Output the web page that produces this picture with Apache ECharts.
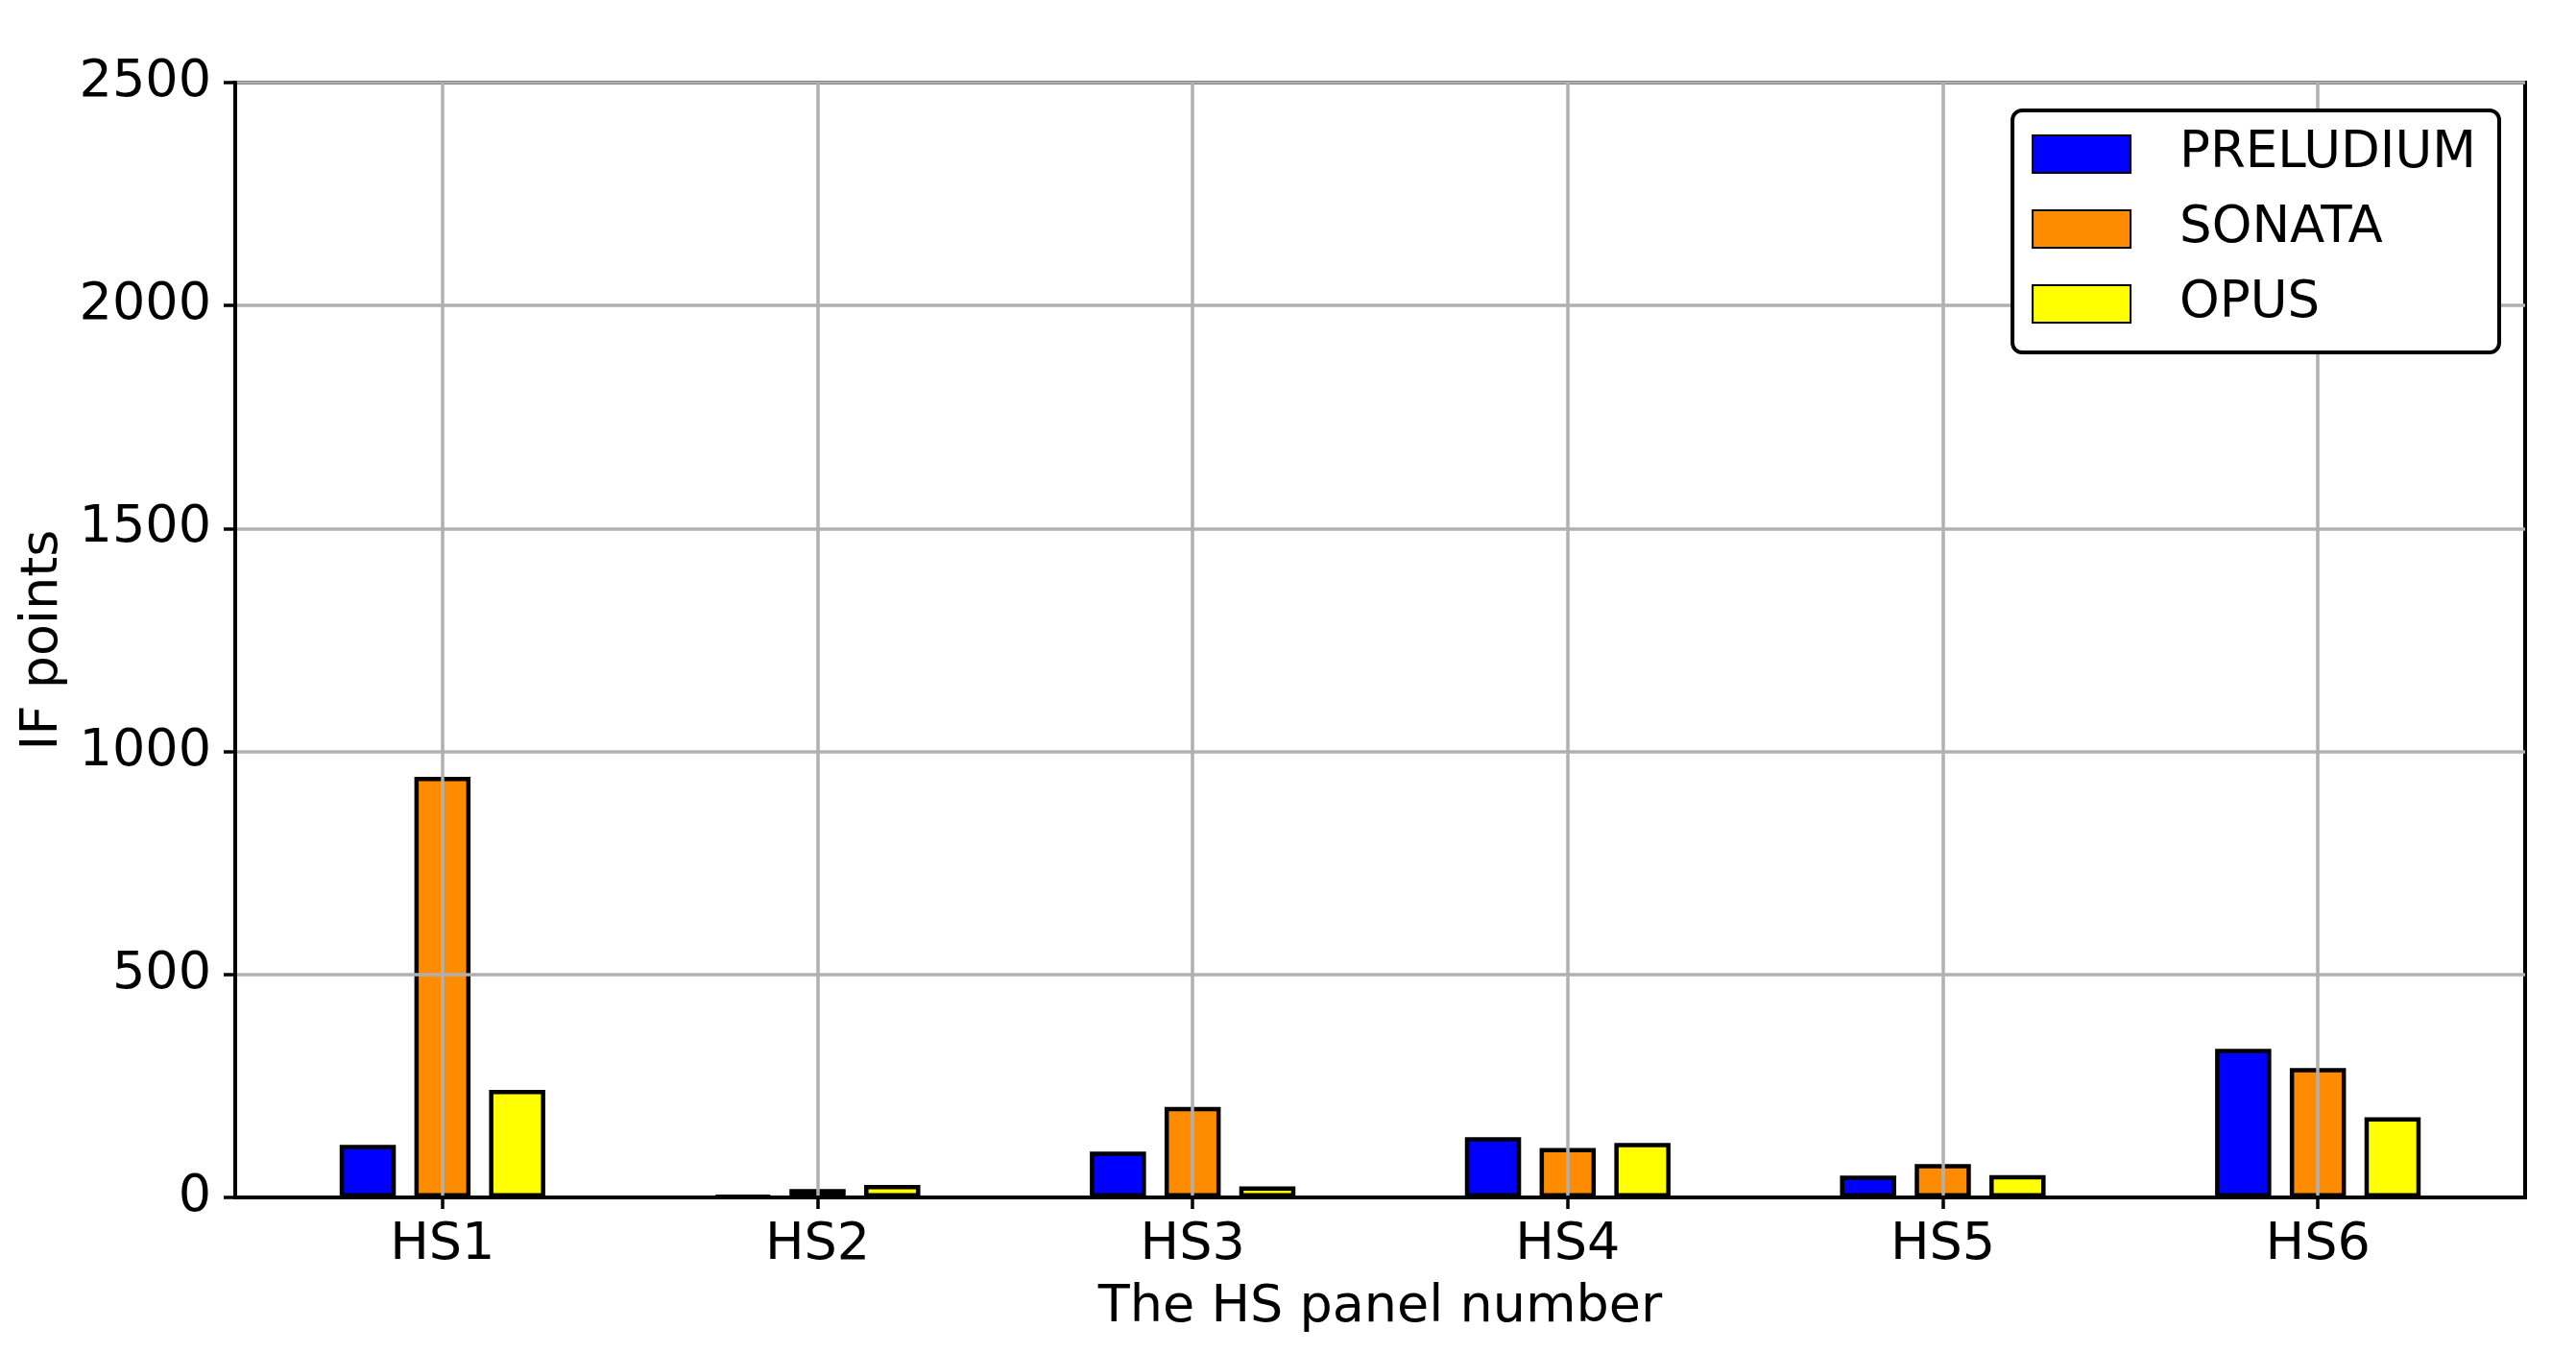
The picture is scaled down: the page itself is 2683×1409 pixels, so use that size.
<!DOCTYPE html>
<html>
<head>
<meta charset="utf-8">
<title>IF points per HS panel</title>
<script src="https://cdn.jsdelivr.net/npm/echarts@6.0.0/dist/echarts.min.js"></script>
<style>
  html, body { margin: 0; padding: 0; background: #fff; }
  #chart { width: 2683px; height: 1409px; }
</style>
</head>
<body>
<div id="chart"></div>
<script>
// values
const panels = ['HS1', 'HS2', 'HS3', 'HS4', 'HS5', 'HS6'];
const preludium = [118, 3, 103, 135, 49, 333];
const sonata = [943, 19, 203, 111, 75, 290];
const opus = [241, 28, 25, 122, 50, 180];
const panelTicks = [0, 1, 2, 3, 4, 5];

const font = 'DejaVu Sans';
const gridColor = '#b0b0b0';

const seriesDefs = [
  { name: 'PRELUDIUM', values: preludium, color: '#0000ff' },
  { name: 'SONATA', values: sonata, color: '#ff8c00' },
  { name: 'OPUS', values: opus, color: '#ffff00' },
];

const chart = echarts.init(document.getElementById('chart'));

const option = {
  animation: false,
  backgroundColor: '#fff',
  grid: {
    left: 245, right: 53, top: 86, bottom: 162,
    show: true, borderColor: '#000', borderWidth: 4,
    backgroundColor: 'transparent',
  },
  xAxis: {
    type: 'value',
    min: -0.5525,
    max: 5.5525,
    z: 3,
    name: 'The HS panel number',
    nameLocation: 'middle',
    nameGap: 88,
    nameTextStyle: { fontFamily: font, fontSize: 54, color: '#000' },
    axisLine: { show: true, onZero: false, lineStyle: { color: '#000', width: 4 } },
    axisTick: {
      show: true, length: 12, inside: false,
      customValues: panelTicks,
      lineStyle: { color: '#000', width: 3.5 },
    },
    axisLabel: {
      customValues: panelTicks,
      margin: 23,
      fontFamily: font, fontSize: 54, color: '#000',
      formatter: v => panels[v],
    },
    splitLine: { show: true, lineStyle: { color: gridColor, width: 3.5 } },
  },
  yAxis: {
    type: 'value',
    min: 0, max: 2500, interval: 500,
    z: 3,
    name: 'IF points',
    nameLocation: 'middle',
    nameRotate: 90,
    nameGap: 158,
    nameTextStyle: { fontFamily: font, fontSize: 54, color: '#000' },
    axisLine: { show: true, onZero: false, lineStyle: { color: '#000', width: 4 } },
    axisTick: { show: true, length: 12, inside: false, lineStyle: { color: '#000', width: 3.5 } },
    axisLabel: {
      margin: 25, fontFamily: font, fontSize: 54, color: '#000',
      formatter: v => String(v),
    },
    splitLine: { show: true, lineStyle: { color: gridColor, width: 3.5 } },
  },
  legend: {
    orient: 'vertical',
    right: 80, top: 115,
    z: 10,
    icon: 'rect',
    itemWidth: 102, itemHeight: 39, itemGap: 25,
    padding: [19, 24, 24, 20],
    borderColor: '#000', borderWidth: 4, borderRadius: 10,
    backgroundColor: '#fff',
    textStyle: { fontFamily: font, fontSize: 53, color: '#000', padding: [0, 0, 0, 46] },
    data: seriesDefs.map(s => s.name),
  },
  series: seriesDefs.map(s => ({
    type: 'bar',
    name: s.name,
    data: s.values.map((v, i) => [panelTicks[i], v]),
    barWidth: 58.5,
    barGap: '33%',
    itemStyle: { color: s.color, borderColor: '#000', borderWidth: 4.5 },
    emphasis: { disabled: true },
  })),
};

chart.setOption(option);

window.addEventListener('resize', () => {
  chart.resize();
});
</script>
</body>
</html>
